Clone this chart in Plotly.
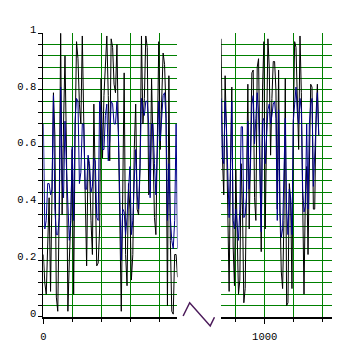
import numpy as np
import plotly.graph_objects as go

# Two noisy series shown on a broken x axis (0-462 | 850-1232)
LEFT_X0, LEFT_STEP = 0.0, 4.97
RIGHT_X0, RIGHT_STEP = 850.0, 4.6

black_left = [
    0.22, 0.12, 0.08, 0.29, 0.42, 0.09, 0.56, 0.79, 0.64, 0.07,
    0.02, 0.38, 1.00, 0.36, 0.68, 0.92, 0.60, 0.02, 0.20, 0.34,
    0.59, 0.08, 0.64, 0.97, 0.91, 0.75, 0.68, 0.99, 0.69, 0.38,
    0.18, 0.56, 0.52, 0.34, 0.22, 0.75, 0.38, 0.18, 0.19, 0.31,
    0.84, 0.56, 0.78, 0.92, 0.99, 0.78, 0.55, 0.98, 0.95, 0.82,
    0.79, 0.96, 0.65, 0.23, 0.02, 0.43, 0.86, 0.22, 0.11, 0.47,
    0.38, 0.13, 0.22, 0.59, 0.75, 0.38, 0.36, 0.52, 0.99, 0.68,
    0.77, 0.99, 0.95, 0.43, 0.45, 0.84, 0.61, 0.35, 0.29, 0.73,
    0.97, 0.59, 0.76, 0.93, 0.89, 0.73, 0.04, 0.85, 0.27, 0.02,
    0.01, 0.22, 0.22, 0.14,
]
blue_left = [
    0.68, 0.31, 0.34, 0.47, 0.47, 0.43, 0.45, 0.78, 0.38, 0.29,
    0.29, 0.35, 0.81, 0.48, 0.42, 0.69, 0.53, 0.37, 0.27, 0.34,
    0.60, 0.34, 0.69, 0.77, 0.76, 0.47, 0.51, 0.68, 0.68, 0.45,
    0.45, 0.57, 0.54, 0.44, 0.46, 0.56, 0.55, 0.35, 0.34, 0.76,
    0.72, 0.59, 0.59, 0.71, 0.75, 0.55, 0.62, 0.76, 0.75, 0.68,
    0.68, 0.76, 0.65, 0.42, 0.20, 0.38, 0.37, 0.29, 0.35, 0.45,
    0.53, 0.29, 0.34, 0.48, 0.59, 0.43, 0.38, 0.54, 0.77, 0.73,
    0.71, 0.76, 0.76, 0.68, 0.42, 0.68, 0.68, 0.54, 0.43, 0.59,
    0.76, 0.62, 0.72, 0.78, 0.79, 0.70, 0.34, 0.54, 0.35, 0.27,
    0.24, 0.34, 0.68, 0.24,
]
black_right = [
    0.98, 0.56, 0.43, 0.85, 0.65, 0.36, 0.09, 0.54, 0.81, 0.25,
    0.11, 0.52, 0.29, 0.08, 0.13, 0.54, 0.38, 0.05, 0.10, 0.59,
    0.82, 0.31, 0.64, 0.86, 0.87, 0.42, 0.34, 0.88, 0.91, 0.54,
    0.23, 0.81, 0.97, 0.31, 0.76, 0.98, 0.88, 0.57, 0.77, 0.90,
    0.90, 0.80, 0.38, 0.87, 0.38, 0.16, 0.10, 0.34, 0.84, 0.04,
    0.05, 0.47, 0.41, 0.10, 0.68, 0.97, 0.95, 0.72, 0.59, 0.99,
    0.79, 0.41, 0.08, 0.43, 0.53, 0.22, 0.59, 0.82, 0.81, 0.38,
    0.38, 0.71, 0.82, 0.64,
]
blue_right = [
    0.77, 0.56, 0.54, 0.76, 0.67, 0.45, 0.35, 0.51, 0.76, 0.34,
    0.31, 0.38, 0.31, 0.27, 0.38, 0.67, 0.67, 0.35, 0.36, 0.42,
    0.69, 0.45, 0.54, 0.75, 0.78, 0.61, 0.70, 0.79, 0.72, 0.54,
    0.30, 0.69, 0.70, 0.54, 0.67, 0.73, 0.75, 0.68, 0.71, 0.75,
    0.76, 0.70, 0.34, 0.73, 0.37, 0.28, 0.31, 0.47, 0.70, 0.38,
    0.29, 0.45, 0.42, 0.29, 0.69, 0.75, 0.81, 0.72, 0.68, 0.77,
    0.73, 0.45, 0.37, 0.39, 0.68, 0.38, 0.68, 0.75, 0.77, 0.46,
    0.59, 0.72, 0.79, 0.64,
]

y_tick_vals = [0, 0.2, 0.4, 0.6, 0.8, 1.0]
y_tick_text = ["0", "0.2", "0.4", "0.6", "0.8", "1"]
# horizontal grid every 0.04 strictly inside the 0..1 range
y_grid_vals = [round(0.04 * k, 2) for k in range(1, 25)]

x_left = LEFT_X0 + LEFT_STEP * np.arange(len(black_left))
x_right = RIGHT_X0 + RIGHT_STEP * np.arange(len(black_right))

BLACK = "#000000"
NAVY = "#00008b"
GRID = "#008000"

fig = go.Figure()
# left panel: black on the labelled axis, blue on the overlaid grid axis
fig.add_trace(go.Scatter(x=x_left, y=black_left, mode="lines",
                         line=dict(color=BLACK, width=1), xaxis="x", yaxis="y"))
fig.add_trace(go.Scatter(x=x_left, y=blue_left, mode="lines",
                         line=dict(color=NAVY, width=1), xaxis="x", yaxis="y3"))
fig.add_trace(go.Scatter(x=x_right, y=black_right, mode="lines",
                         line=dict(color=BLACK, width=1), xaxis="x2", yaxis="y2"))
fig.add_trace(go.Scatter(x=x_right, y=blue_right, mode="lines",
                         line=dict(color=NAVY, width=1), xaxis="x2", yaxis="y2"))

W, H = 349, 347
y_dom = [28 / H, 322 / H]

x_common = dict(
    showline=True, linecolor=BLACK, linewidth=2, zeroline=False,
    ticks="outside", ticklen=5, tickcolor=BLACK, tickwidth=1,
    ticklabelstandoff=3,
    showgrid=True, gridcolor=GRID, gridwidth=1,
    minor=dict(dtick=100, tick0=0, ticks="outside", ticklen=3,
               tickcolor=BLACK, showgrid=True, gridcolor=GRID, gridwidth=1),
)

fig.update_layout(
    width=W, height=H, autosize=False,
    margin=dict(l=0, r=0, t=0, b=0),
    paper_bgcolor="white", plot_bgcolor="white",
    showlegend=False,
    font=dict(family="Liberation Mono, DejaVu Sans Mono, monospace", size=10.5, color=BLACK),
    xaxis=dict(domain=[40.7 / W, 176 / W], range=[0, 462], anchor="y",
               tickmode="array", tickvals=[0], ticktext=["0"], **x_common),
    xaxis2=dict(domain=[220 / W, 332 / W], range=[850, 1232], anchor="y2",
                tickmode="array", tickvals=[1000], ticktext=["1000"], **x_common),
    # left value axis: line, labelled ticks (labels sit just above their tick)
    yaxis=dict(domain=y_dom, range=[0, 1], anchor="x",
               showline=True, linecolor=BLACK, linewidth=1, zeroline=False,
               tickmode="array", tickvals=y_tick_vals, ticktext=y_tick_text,
               ticks="outside", ticklen=4, tickcolor=BLACK,
               ticklabelshift=-4, showgrid=False),
    # overlaid axis carrying the small ticks and the horizontal grid
    yaxis3=dict(overlaying="y", anchor="x", side="left", range=[0, 1],
                showline=False, zeroline=False, showticklabels=False,
                tickmode="array", tickvals=y_grid_vals,
                ticks="outside", ticklen=4, tickcolor=BLACK,
                showgrid=True, gridcolor=GRID, gridwidth=1),
    # right panel shares the grid but has no axis line or labels
    yaxis2=dict(domain=y_dom, range=[0, 1], anchor="x2",
                showline=False, zeroline=False, showticklabels=False,
                tickmode="array", tickvals=y_grid_vals, ticks="",
                showgrid=True, gridcolor=GRID, gridwidth=1),
)

# zigzag marker for the axis break
brk = [(181.7, 318), (188.3, 304.3), (209, 328.3), (213.3, 319.3)]
path = "M " + " L ".join(f"{px / W:.4f},{(H - py) / H:.4f}" for px, py in brk)
fig.add_shape(type="path", path=path, xref="paper", yref="paper",
              line=dict(color="#4b1a5a", width=1.5))

fig.write_html("out.html")
